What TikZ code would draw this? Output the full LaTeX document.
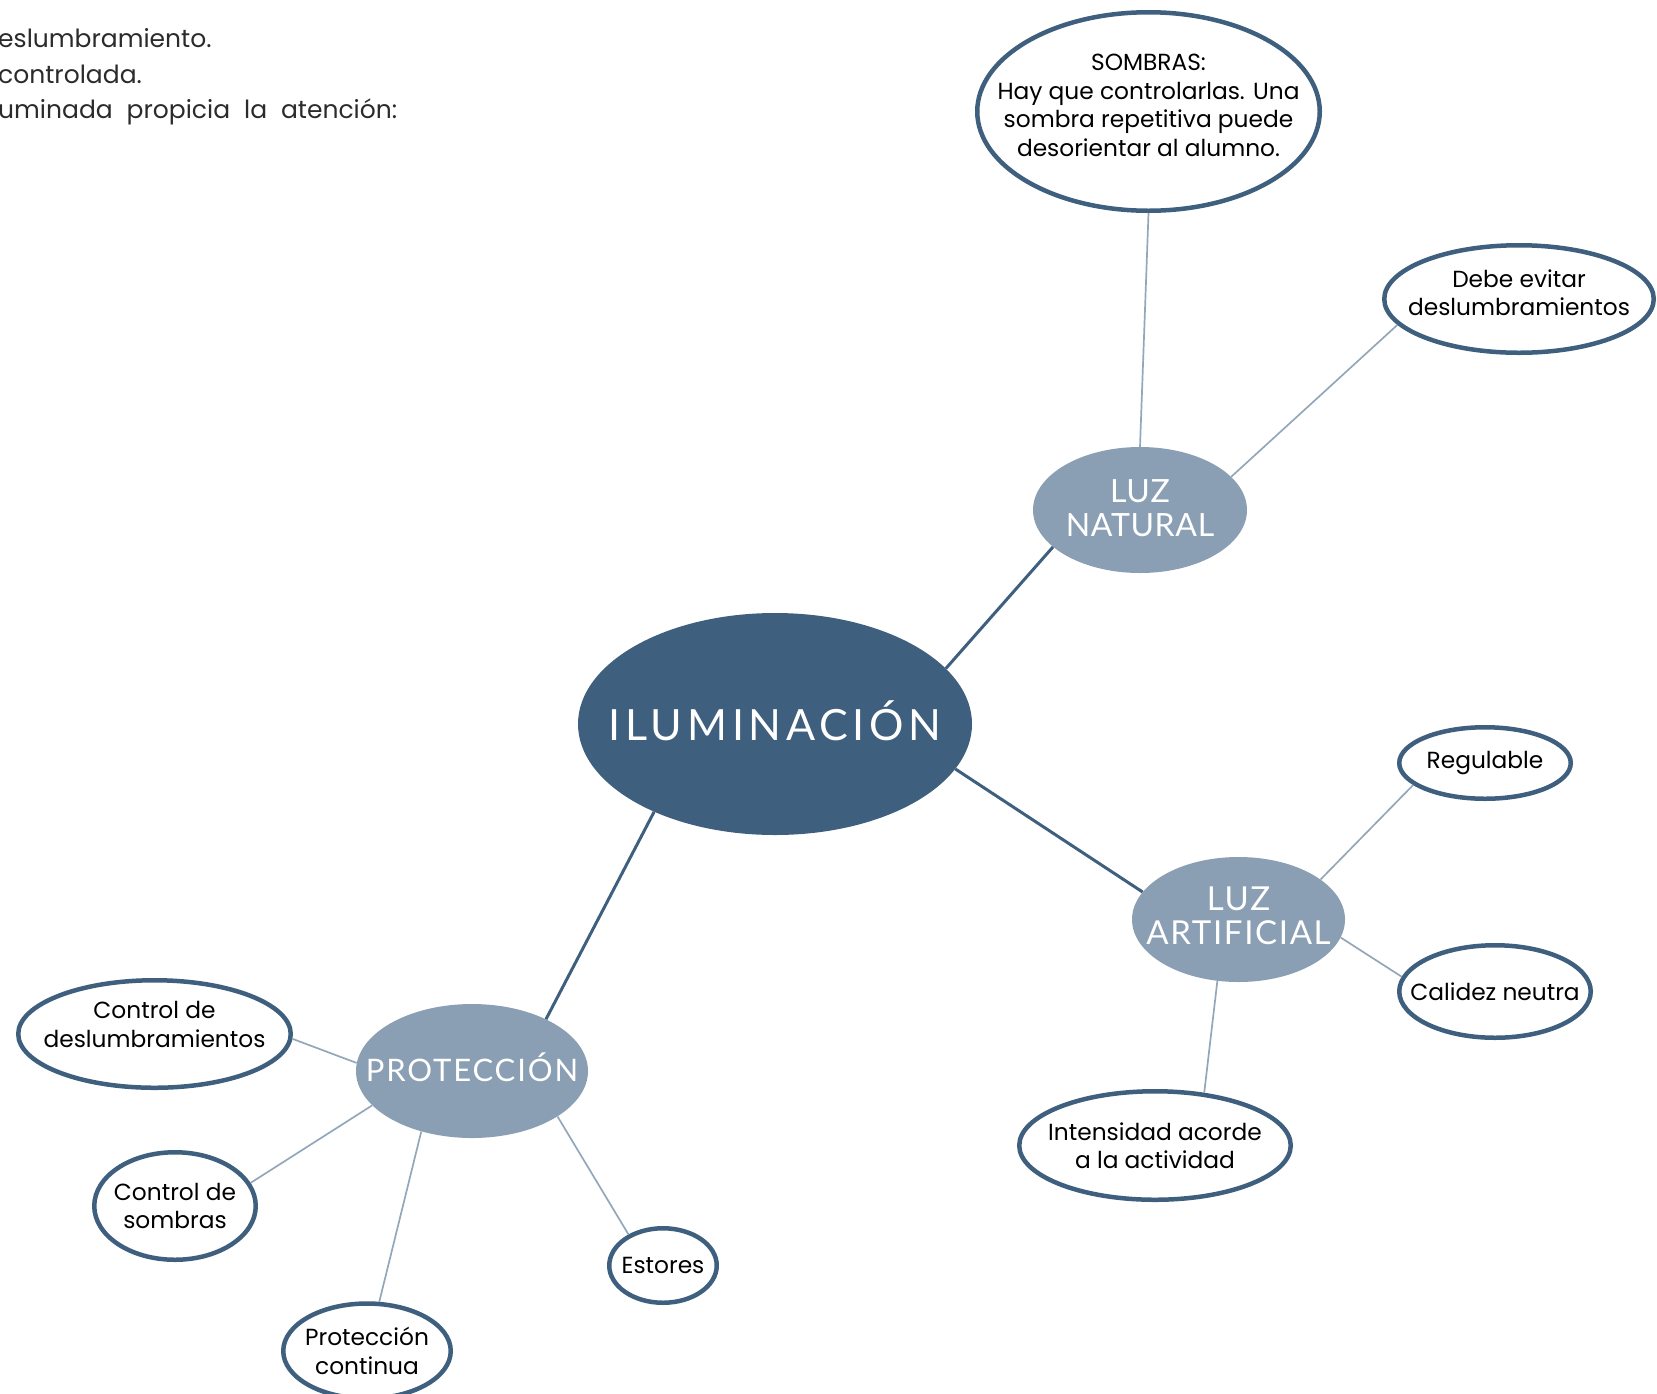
\documentclass[tikz,border=0pt]{standalone}
\usepackage{fontspec}
\setmainfont{Poppins}
\newfontfamily\titlefont{Lato}
\usetikzlibrary{shapes.geometric}
\definecolor{darkblue}{HTML}{3F5F7E}
\definecolor{midblue}{HTML}{8A9FB3}
\definecolor{lightline}{HTML}{93A7BB}
\definecolor{bodytext}{HTML}{2B2B2B}
\tikzset{
  mainnode/.style={ellipse, fill=darkblue, draw=none, inner sep=0pt},
  maintext/.style={text=white, inner sep=0pt,
    font=\titlefont\fontsize{43}{50}\selectfont\addfontfeatures{LetterSpace=11}},
  subnode/.style={ellipse, fill=midblue, draw=none, inner sep=0pt},
  subtext/.style={text=white, align=center, inner sep=0pt,
    font=\titlefont\fontsize{33}{34}\selectfont\addfontfeatures{LetterSpace=5}},
  leaf/.style={ellipse, fill=white, draw=darkblue, line width=4.5pt, inner sep=0pt},
  leaftext/.style={align=center, text=black, inner sep=0pt, font=\fontsize{23.3}{28.5}\selectfont},
  mainedge/.style={draw=darkblue, line width=3pt},
  leafedge/.style={draw=lightline, line width=1.7pt},
  bodyline/.style={anchor=west, inner sep=0pt, text=bodytext, font=\fontsize{25}{30}\selectfont},
}
\begin{document}
\begin{tikzpicture}[x=1pt,y=-1pt]
\useasboundingbox (0,0) rectangle (1657,1393);
% top-left text fragment
\node[bodyline] (t1) at (-2,38) {eslumbramiento.};
\node[bodyline] (t2) at (-2,74) {controlada.};
\node[bodyline] (t3) at (-2,112) {\makebox[399pt][s]{uminada propicia la atención:}};
% main nodes
\node[mainnode, minimum width=394pt, minimum height=222pt,
  label={[maintext, yshift=3pt]center:ILUMINACIÓN}] (ilum) at (775,724) {};
\node[subnode, minimum width=214pt, minimum height=126pt,
  label={[subtext, yshift=2pt, font=\titlefont\fontsize{32}{34}\selectfont\addfontfeatures{LetterSpace=2}]center:{LUZ\\NATURAL}}] (nat) at (1140,510) {};
\node[subnode, minimum width=213pt, minimum height=125pt,
  label={[subtext, yshift=4pt]center:{LUZ\\ARTIFICIAL}}] (art) at (1238.5,919.5) {};
\node[subnode, minimum width=232pt, minimum height=134pt,
  label={[subtext, yshift=4pt, font=\titlefont\fontsize{31}{34}\selectfont\addfontfeatures{LetterSpace=6}]center:PROTECCIÓN}] (prot) at (472,1071) {};
% leaves
\node[leaf, minimum width=342.5pt, minimum height=198.5pt,
  label={[leaftext, yshift=6.3pt]center:{SOMBRAS:\\Hay que controlarlas. Una\\sombra repetitiva puede\\desorientar al alumno.}}] (sombras) at (1148.5,111.5) {};
\node[leaf, minimum width=269.5pt, minimum height=107.5pt,
  label={[leaftext, yshift=6.3pt]center:{Debe evitar\\deslumbramientos}}] (debe) at (1519,299) {};
\node[leaf, minimum width=171.5pt, minimum height=71.5pt,
  label={[leaftext]center:Regulable}] (reg) at (1485,763) {};
\node[leaf, minimum width=191.5pt, minimum height=92.5pt,
  label={[leaftext]center:Calidez neutra}] (cal) at (1495,991.5) {};
\node[leaf, minimum width=271.5pt, minimum height=108.5pt,
  label={[leaftext]center:{Intensidad acorde\\a la actividad}}] (inten) at (1155,1145.5) {};
\node[leaf, minimum width=272.5pt, minimum height=107.5pt,
  label={[leaftext, yshift=9.5pt]center:{Control de\\deslumbramientos}}] (cdesl) at (154.5,1034) {};
\node[leaf, minimum width=161.5pt, minimum height=107.5pt,
  label={[leaftext]center:{Control de\\sombras}}] (csomb) at (175,1206) {};
\node[leaf, minimum width=167.5pt, minimum height=95pt,
  label={[leaftext]center:{Protección\\continua}}] (pcont) at (367,1351) {};
\node[leaf, minimum width=107.5pt, minimum height=74.5pt,
  label={[leaftext]center:Estores}] (est) at (663,1265.5) {};
% connectors
\draw[mainedge] (ilum.18) -- (nat.203);
\draw[mainedge] (ilum.-14) -- (art.164);
\draw[mainedge] (ilum.216) -- (prot.35);
\draw[leafedge] (nat.north) -- (sombras.south);
\draw[leafedge] (nat.20) -- (debe.192);
\draw[leafedge] (art.26) -- (reg.197);
\draw[leafedge] (art.-10) -- (cal.171);
\draw[leafedge] (art.251) -- (inten.47);
\draw[leafedge] (prot.176) -- (cdesl.-2.5);
\draw[leafedge] (prot.199) -- (csomb.17);
\draw[leafedge] (prot.230) -- (pcont.76);
\draw[leafedge] (prot.-28) -- (est.138);
\end{tikzpicture}
\end{document}
